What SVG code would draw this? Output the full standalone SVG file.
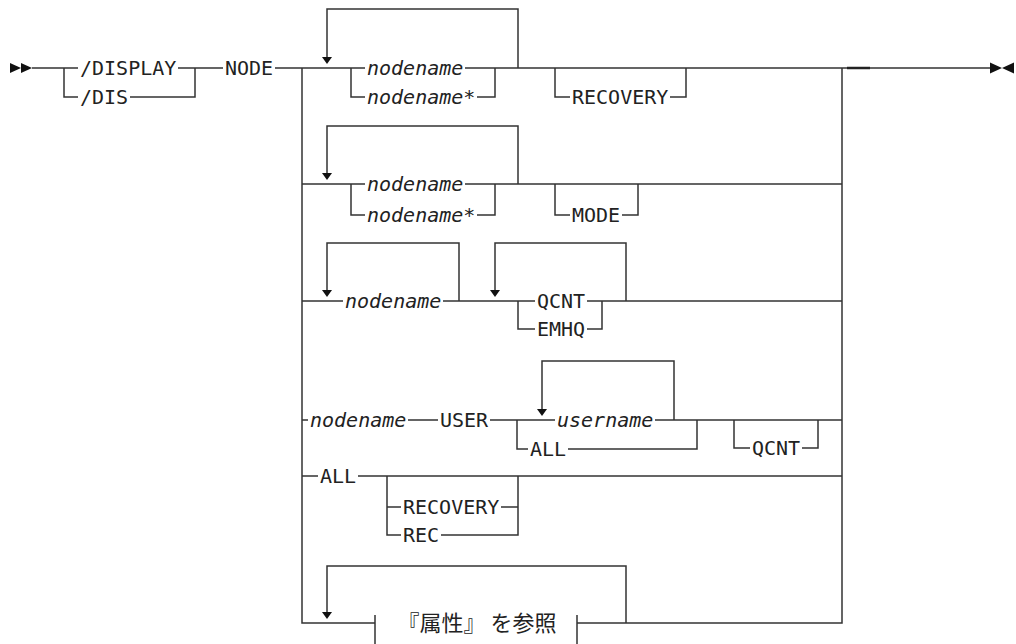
<svg xmlns="http://www.w3.org/2000/svg" xmlns:xlink="http://www.w3.org/1999/xlink" width="1016" height="644" viewBox="0 0 1016 644">
<style>
.l{fill:none;stroke:#333;stroke-width:1.5}
.t{font-family:"DejaVu Sans Mono","Liberation Mono",monospace;font-size:20px;fill:#222}
.i{font-style:italic}
.j{font-family:"Noto Sans CJK JP","Noto Sans CJK SC",sans-serif;font-size:22px;fill:#222}
.a{fill:#111}
</style>
<defs>
<path id="dn" d="M-5,0 L5,0 L0,7 Z" class="a"/>
</defs>
<rect width="1016" height="644" fill="#fff"/>
<g id="connectors">
<polygon class="a" points="10,63 21,68 10,73"/>
<polygon class="a" points="21,63 32,68 21,73"/>
<path class="l" d="M32,68 H78 M64,68 V97 H78 M178,68 H223 M130,97 H195 V68 M275,68 H365 M302,68 V623 H375"/>
<!-- row1 -->
<path class="l" d="M518,68 V9 H327 V57 M351,68 V97 H365 M465,68 H990 M477,97 H495 V68 M555,68 V97 H570 M670,97 H686 V68"/>
<use xlink:href="#dn" x="327" y="57"/>
<path d="M847,68 H870" stroke="#222" stroke-width="2.5"/>
<path class="l" d="M842,68 V623 H577"/>
<polygon class="a" points="990,62.5 1002,68 990,73.5"/>
<polygon class="a" points="1014,62.5 1002,68 1014,73.5"/>
<!-- row2 -->
<path class="l" d="M302,184 H365 M518,184 V126 H327 V173 M351,184 V215 H365 M465,184 H842 M477,215 H495 V184 M555,184 V215 H570 M622,215 H638 V184"/>
<use xlink:href="#dn" x="327" y="173"/>
<!-- row3 -->
<path class="l" d="M302,301 H343 M459,301 V243 H327 V290 M443,301 H535 M626,301 V243 H495 V290 M518,301 V329 H535 M587,301 H842 M587,329 H602 V301"/>
<use xlink:href="#dn" x="327" y="290"/>
<use xlink:href="#dn" x="495" y="290"/>
<!-- row4 -->
<path class="l" d="M302,420 H308 M408,420 H438 M490,420 H555 M674,420 V361 H542 V409 M517,420 V449 H528 M655,420 H842 M568,449 H697 V420 M734,420 V448 H750 M802,448 H818 V420"/>
<use xlink:href="#dn" x="542" y="409"/>
<!-- row5 -->
<path class="l" d="M302,476 H318 M358,476 H842 M387,476 V535 H401 M387,507 H401 M501,507 H518 M441,535 H518 V476"/>
<!-- row6 -->
<path class="l" d="M626,623 V566 H327 V612 M375,615 V644 M577,615 V644"/>
<use xlink:href="#dn" x="327" y="612"/>
</g>
<g id="n-display"><text class="t" x="80" y="75">/DISPLAY</text></g>
<g id="n-dis"><text class="t" x="80" y="104">/DIS</text></g>
<g id="n-node"><text class="t" x="225" y="75">NODE</text></g>
<g id="n-r1-nodename"><text class="t i" x="367" y="75">nodename</text></g>
<g id="n-r1-nodenamestar"><text class="t i" x="367" y="104">nodename*</text></g>
<g id="n-r1-recovery"><text class="t" x="572" y="104">RECOVERY</text></g>
<g id="n-r2-nodename"><text class="t i" x="367" y="191">nodename</text></g>
<g id="n-r2-nodenamestar"><text class="t i" x="367" y="222">nodename*</text></g>
<g id="n-r2-mode"><text class="t" x="572" y="222">MODE</text></g>
<g id="n-r3-nodename"><text class="t i" x="345" y="308">nodename</text></g>
<g id="n-r3-qcnt"><text class="t" x="537" y="308">QCNT</text></g>
<g id="n-r3-emhq"><text class="t" x="537" y="336">EMHQ</text></g>
<g id="n-r4-nodename"><text class="t i" x="310" y="427">nodename</text></g>
<g id="n-r4-user"><text class="t" x="440" y="427">USER</text></g>
<g id="n-r4-username"><text class="t i" x="557" y="427">username</text></g>
<g id="n-r4-all"><text class="t" x="530" y="456">ALL</text></g>
<g id="n-r4-qcnt"><text class="t" x="752" y="455">QCNT</text></g>
<g id="n-r5-all"><text class="t" x="320" y="483">ALL</text></g>
<g id="n-r5-recovery"><text class="t" x="403" y="514">RECOVERY</text></g>
<g id="n-r5-rec"><text class="t" x="403" y="542">REC</text></g>
<g id="n-r6-attr"><text class="j" x="477" y="631" text-anchor="middle">『属性』 を参照</text></g>
</svg>
